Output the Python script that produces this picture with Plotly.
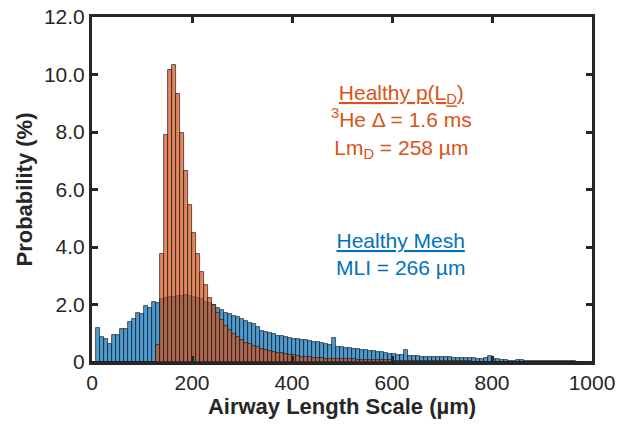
import plotly.graph_objects as go

# Bin edges: 8 µm wide bins from 0 to 1000 µm (125 bins)
bin_width = 8
bin_centers = [4 + 8 * i for i in range(125)]

# Healthy Mesh (blue) probability (%) per bin
mesh_prob = [
    0.00, 1.18, 0.86, 0.79, 0.63, 0.95, 0.95, 1.15, 1.15, 1.38,
    1.51, 1.70, 1.66, 1.94, 1.89, 2.09, 2.04, 2.20, 2.22, 2.25,
    2.27, 2.28, 2.30, 2.32, 2.30, 2.26, 2.22, 2.20, 2.10, 2.05,
    1.98, 1.88, 1.80, 1.70, 1.66, 1.60, 1.56, 1.50, 1.44, 1.37,
    1.32, 1.22, 1.09, 1.03, 1.00, 0.98, 0.91, 0.89, 0.86, 0.84,
    0.81, 0.79, 0.76, 0.75, 0.73, 0.70, 0.68, 0.65, 0.62, 0.59,
    0.82, 0.53, 0.52, 0.49, 0.48, 0.46, 0.44, 0.43, 0.41, 0.40,
    0.38, 0.36, 0.35, 0.33, 0.27, 0.27, 0.26, 0.25, 0.41, 0.21,
    0.20, 0.20, 0.19, 0.19, 0.18, 0.18, 0.17, 0.17, 0.16, 0.16,
    0.15, 0.15, 0.14, 0.14, 0.13, 0.13, 0.12, 0.12, 0.14, 0.22,
    0.12, 0.10, 0.08, 0.06, 0.05, 0.05, 0.07, 0.06, 0.05, 0.04,
    0.04, 0.03, 0.03, 0.03, 0.02, 0.02, 0.02, 0.02, 0.03, 0.02,
    0.02, 0.01, 0.01, 0.01, 0.01,
]

# Healthy p(L_D) (orange) probability (%) per bin
pld_prob = [
    0.00, 0.00, 0.00, 0.00, 0.00, 0.00, 0.00, 0.00, 0.00, 0.00,
    0.00, 0.00, 0.00, 0.00, 0.00, 0.00, 0.60, 3.77, 7.90, 10.16,
    10.33, 9.32, 7.95, 6.64, 5.46, 4.48, 3.74, 3.12, 2.68, 2.21,
    1.98, 1.72, 1.45, 1.24, 1.10, 0.96, 0.87, 0.77, 0.67, 0.61,
    0.57, 0.52, 0.46, 0.42, 0.39, 0.36, 0.33, 0.31, 0.28, 0.25,
    0.23, 0.20, 0.19, 0.18, 0.16, 0.15, 0.14, 0.13, 0.12, 0.12,
    0.11, 0.11, 0.10, 0.10, 0.09, 0.09, 0.08, 0.08, 0.08, 0.07,
    0.07, 0.07, 0.06, 0.06, 0.06, 0.05, 0.05, 0.05, 0.05, 0.04,
    0.04, 0.04, 0.04, 0.03, 0.03, 0.03, 0.03, 0.03, 0.02, 0.02,
    0.02, 0.02, 0.02, 0.02, 0.02, 0.01, 0.01, 0.01, 0.01, 0.01,
    0.01, 0.01, 0.01, 0.01, 0.01, 0.01, 0.01, 0.01, 0.00, 0.00,
    0.00, 0.00, 0.00, 0.00, 0.00, 0.00, 0.00, 0.00, 0.00, 0.00,
    0.00, 0.00, 0.00, 0.00, 0.00,
]

x_tickvals = [0, 200, 400, 600, 800, 1000]
x_ticktext = ["0", "200", "400", "600", "800", "1000"]
y_tickvals = [0, 2, 4, 6, 8, 10, 12]
y_ticktext = ["0", "2.0", "4.0", "6.0", "8.0", "10.0", "12.0"]

FONT = "Arial, Liberation Sans, sans-serif"
AX = "#262626"
BLUE_TXT = "#0072BD"
ORANGE_TXT = "#D95319"

fig = go.Figure()
fig.add_trace(go.Bar(
    x=bin_centers, y=mesh_prob, width=bin_width,
    marker=dict(color="rgba(0,114,189,0.7)",
                line=dict(color="rgba(25,25,25,0.85)", width=0.8)),
    name="Healthy Mesh", showlegend=False,
))
fig.add_trace(go.Bar(
    x=bin_centers, y=pld_prob, width=bin_width,
    marker=dict(color="rgba(217,83,25,0.7)",
                line=dict(color="rgba(25,25,25,0.85)", width=0.8)),
    name="Healthy p(L_D)", showlegend=False,
))

fig.update_layout(
    width=619, height=431,
    margin=dict(l=92, r=27, t=17, b=69, autoexpand=False),
    barmode="overlay", bargap=0,
    paper_bgcolor="white", plot_bgcolor="white",
    font=dict(family=FONT, size=21, color=AX),
    xaxis=dict(
        range=[0, 1000], tickvals=x_tickvals, ticktext=x_ticktext,
        ticks="inside", ticklen=6, tickwidth=2.5, tickcolor=AX,
        showline=True, linewidth=3, linecolor=AX, mirror="allticks",
        showgrid=False, zeroline=False, automargin=False,
        tickfont=dict(family=FONT, size=21, color=AX),
        title=dict(text="<b>Airway Length Scale (µm)</b>",
                   font=dict(family=FONT, size=22, color=AX), standoff=6),
    ),
    yaxis=dict(
        range=[0, 12], tickvals=y_tickvals, ticktext=y_ticktext,
        ticks="inside", ticklen=6, tickwidth=2.5, tickcolor=AX,
        showline=True, linewidth=3, linecolor=AX, mirror="allticks",
        showgrid=False, zeroline=False, automargin=False,
        tickfont=dict(family=FONT, size=21, color=AX),
        title=dict(text="<b>Probability (%)</b>",
                   font=dict(family=FONT, size=22, color=AX), standoff=6),
    ),
    annotations=[
        dict(xref="paper", yref="paper", x=0.618, y=0.697,
             xanchor="center", yanchor="middle", showarrow=False,
             align="center",
             text="<u>Healthy p(L<sub>D</sub>)</u><br><sup>3</sup>He Δ = 1.6 ms<br>Lm<sub>D</sub> = 258 µm",
             font=dict(family=FONT, size=21, color=ORANGE_TXT)),
        dict(xref="paper", yref="paper", x=0.616, y=0.314,
             xanchor="center", yanchor="middle", showarrow=False,
             align="center",
             text="<u>Healthy Mesh</u><br>MLI = 266 µm",
             font=dict(family=FONT, size=21, color=BLUE_TXT)),
    ],
)

fig.write_html("out.html")
